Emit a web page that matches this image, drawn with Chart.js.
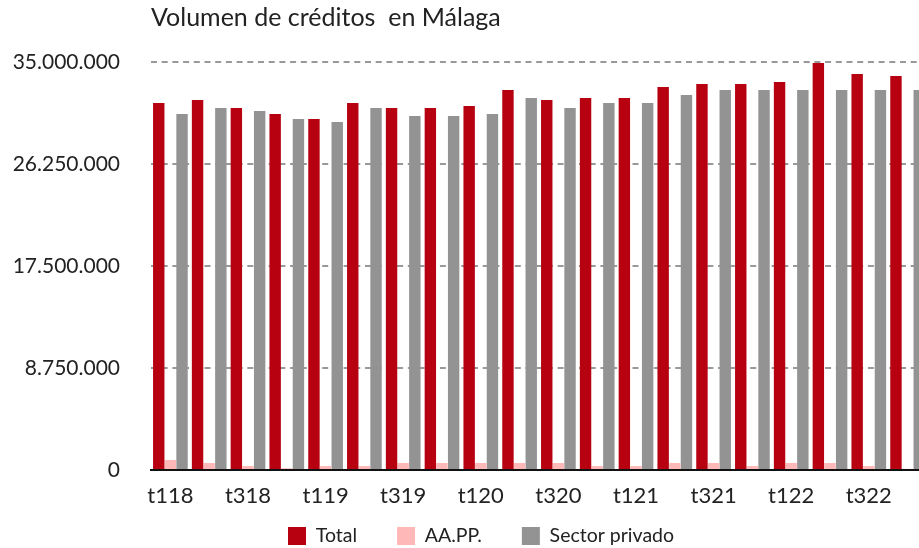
<!DOCTYPE html>
<html><head><meta charset="utf-8">
<script src="https://cdn.jsdelivr.net/npm/chart.js@4"></script>
<style>
html,body{margin:0;padding:0;overflow:hidden;background:#fff;width:919px;height:548px}
#wrap{width:928px;height:548px}
</style></head>
<body><div id="wrap"><canvas id="c" width="928" height="548"></canvas></div>
<script>
const categories = ['t118','t218','t318','t418','t119','t219','t319','t419','t120','t220','t320','t420','t121','t221','t321','t421','t122','t222','t322','t422'];
const total = [31480000, 31740000, 31050000, 30540000, 30110000, 31480000, 31050000, 31050000, 31230000, 32600000, 31740000, 31910000, 31910000, 32860000, 33110000, 33110000, 33280000, 34910000, 33970000, 33800000];
const aapp = [860000, 600000, 340000, 150000, 340000, 340000, 600000, 600000, 600000, 600000, 600000, 340000, 340000, 600000, 600000, 340000, 600000, 600000, 340000, 100000];
const privado = [30540000, 31050000, 30800000, 30110000, 29850000, 31050000, 30370000, 30370000, 30540000, 31910000, 31050000, 31480000, 31480000, 32170000, 32600000, 32600000, 32600000, 32600000, 32600000, 32600000];
const yTicks = [0, 8750000, 17500000, 26250000, 35000000];
const seriesNames = ['Total', 'AA.PP.', 'Sector privado'];
const seriesColors = ['#b70010', '#ffb8b8', '#939393'];

const fmt = v => String(v).replace(/\B(?=(\d{3})+(?!\d))/g, '.');
const FONT = 'Lato, "Open Sans", sans-serif';
const TXT = '#222';

const legendShift = {
  id: 'legendShift',
  afterLayout(chart) {
    const l = chart.legend;
    if (!l || !l.lineWidths) return;
    const lo = l.options.labels;
    const pad = lo.padding;
    const startX = (l.left + pad + l.right - l.lineWidths[0]) / 2;
    const dx = 288 - startX;
    const itemH = Math.max(lo.font.size, lo.boxHeight);
    const dy = 536 - (l.top + pad + itemH / 2);
    l.left += dx; l.right += dx;
    l.top += dy; l.bottom = chart.height;
  }
};

new Chart(document.getElementById('c'), {
  type: 'bar',
  data: {
    labels: categories,
    datasets: [
      { label: seriesNames[0], data: total, backgroundColor: seriesColors[0] },
      { label: seriesNames[1], data: aapp, backgroundColor: seriesColors[1] },
      { label: seriesNames[2], data: privado, backgroundColor: seriesColors[2] }
    ]
  },
  options: {
    responsive: false,
    animation: false,
    layout: { padding: { left: 0, right: 1, top: 0, bottom: 0 } },
    datasets: { bar: { categoryPercentage: 0.9, barPercentage: 0.98, borderWidth: 0 } },
    plugins: {
      tooltip: { enabled: false },
      title: {
        display: true,
        text: 'Volumen de créditos  en Málaga',
        align: 'start',
        fullSize: false,
        color: TXT,
        font: { family: FONT, size: 25, weight: 'normal' },
        padding: { top: 3, bottom: 29 }
      },
      legend: {
        position: 'bottom',
        maxHeight: 26,
        labels: {
          boxWidth: 18, boxHeight: 18, padding: 40,
          color: TXT,
          font: { family: FONT, size: 19.5 }
        }
      }
    },
    scales: {
      x: {
        grid: { display: false, drawTicks: false },
        border: { display: true, color: '#111', width: 2, z: 1 },
        ticks: {
          color: TXT, font: { family: FONT, size: 22 }, padding: 12.8,
          autoSkip: false, maxRotation: 0, minRotation: 0,
          callback: (v, i) => (i % 2 === 0 ? categories[i] : '')
        }
      },
      y: {
        min: 0, max: 35000000,
        afterBuildTicks: s => { s.ticks = yTicks.map(v => ({ value: v })); },
        border: { display: false, dash: [6, 4.7] },
        grid: {
          drawTicks: false, lineWidth: 2,
          color: ctx => (ctx.tick && ctx.tick.value === 0 ? 'rgba(0,0,0,0)' : '#999')
        },
        ticks: {
          color: TXT, font: { family: FONT, size: 21 }, padding: 31,
          callback: v => fmt(v)
        },
        afterFit: s => { s.width = 151; }
      }
    }
  },
  plugins: [legendShift]
});
</script>
</body></html>
